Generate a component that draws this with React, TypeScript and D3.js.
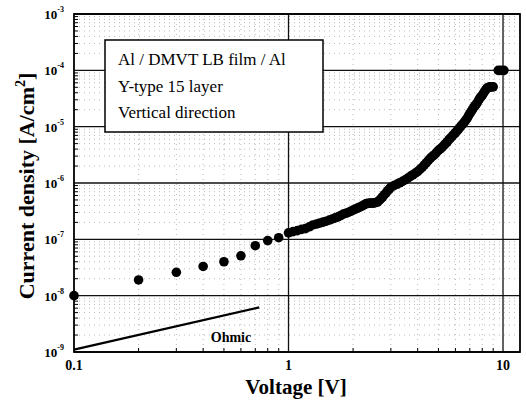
import React from "react";
import * as d3 from "d3";

const voltage = [
  0.1, 0.2, 0.3, 0.4, 0.5, 0.6, 0.7, 0.8, 0.9,
  1.0, 1.05, 1.1, 1.15, 1.2, 1.25, 1.3, 1.35, 1.4, 1.45, 1.5, 1.55, 1.6, 1.65, 1.7, 1.75, 1.8, 1.85, 1.9, 1.95, 2.0,
  2.05, 2.1, 2.15, 2.2, 2.25, 2.3, 2.35, 2.4, 2.45, 2.5, 2.55, 2.6, 2.65, 2.7, 2.75, 2.8, 2.85, 2.9, 2.95, 3.0,
  3.1, 3.2, 3.3, 3.4, 3.5, 3.6, 3.7, 3.8, 3.9, 4.0,
  4.1, 4.2, 4.3, 4.4, 4.5, 4.6, 4.7, 4.8, 4.9, 5.0,
  5.1, 5.2, 5.3, 5.4, 5.5, 5.6, 5.7, 5.8, 5.9, 6.0,
  6.1, 6.2, 6.3, 6.4, 6.5, 6.6, 6.7, 6.8, 6.9, 7.0,
  7.1, 7.2, 7.3, 7.4, 7.5, 7.6, 7.7, 7.8, 7.9, 8.0,
  8.1, 8.2, 8.3, 8.4, 8.5, 8.6, 8.7, 8.8, 8.9, 9.0,
  9.5, 9.8, 10.1,
];
const current = [
  1e-8, 1.9e-8, 2.6e-8, 3.3e-8, 4e-8, 5.1e-8, 7.7e-8, 9.5e-8, 1.07e-7,
  1.3e-7, 1.37e-7, 1.43e-7, 1.5e-7, 1.55e-7, 1.67e-7, 1.8e-7, 1.87e-7, 1.95e-7, 2.02e-7, 2.1e-7,
  2.2e-7, 2.3e-7, 2.4e-7, 2.5e-7, 2.65e-7, 2.8e-7, 2.9e-7, 3.0e-7, 3.15e-7, 3.3e-7,
  3.45e-7, 3.6e-7, 3.75e-7, 3.9e-7, 4.1e-7, 4.3e-7, 4.35e-7, 4.4e-7, 4.4e-7, 4.4e-7,
  4.5e-7, 4.6e-7, 4.9e-7, 5.3e-7, 5.7e-7, 6.2e-7, 6.7e-7, 7.3e-7, 7.8e-7, 8.4e-7,
  9.0e-7, 9.5e-7, 1.01e-6, 1.07e-6, 1.14e-6, 1.22e-6, 1.31e-6, 1.4e-6, 1.5e-6, 1.6e-6,
  1.75e-6, 1.9e-6, 2.1e-6, 2.3e-6, 2.55e-6, 2.8e-6, 3.0e-6, 3.2e-6, 3.5e-6, 3.8e-6,
  4.05e-6, 4.3e-6, 4.65e-6, 5.0e-6, 5.4e-6, 5.9e-6, 6.3e-6, 6.8e-6, 7.3e-6, 7.8e-6,
  8.4e-6, 9.0e-6, 9.7e-6, 1.05e-5, 1.12e-5, 1.2e-5, 1.3e-5, 1.4e-5, 1.55e-5, 1.7e-5,
  1.85e-5, 2.0e-5, 2.2e-5, 2.35e-5, 2.5e-5, 2.7e-5, 2.95e-5, 3.2e-5, 3.4e-5, 3.6e-5,
  3.9e-5, 4.2e-5, 4.5e-5, 4.8e-5, 4.95e-5, 5.0e-5, 5.1e-5, 5.1e-5, 5.1e-5, 5.1e-5,
  1e-4, 1e-4, 1e-4,
];

const ohmicV = [0.1, 0.73];
const ohmicJ = [1.1e-9, 6.2e-9];

const xTickLabels = ["0.1", "1", "10"];
const xTickValues = [0.1, 1, 10];
const yExponents = [-9, -8, -7, -6, -5, -4, -3];

const legendLines = ["Al / DMVT LB film / Al", "Y-type 15 layer", "Vertical direction"];

export default function App() {
  const width = 526;
  const height = 400;
  const marginLeft = 74;
  const marginRight = 6;
  const marginTop = 14;
  const marginBottom = 48;

  const x = d3.scaleLog().domain([0.1, 12]).range([marginLeft, width - marginRight]);
  const y = d3.scaleLog().domain([1e-9, 1e-3]).range([height - marginBottom, marginTop]);

  const [x0, x1] = x.range();
  const [y0, y1] = y.range();

  // minor grid (2..9 of each decade)
  const xMinor: number[] = [];
  [0.1, 1, 10].forEach(d => {
    for (let k = 2; k <= 9; k++) if (d * k < 12) xMinor.push(d * k);
  });
  const yMinor: number[] = [];
  yExponents.slice(0, -1).forEach(e => {
    for (let k = 2; k <= 9; k++) yMinor.push(k * Math.pow(10, e));
  });

  const points = voltage.map((v, i) => ({ v, j: current[i] }));
  const ohmic = d3.line<number>().x((v) => x(v)).y((_, i) => y(ohmicJ[i]));

  const font = "'Liberation Serif', 'Times New Roman', serif";

  return (
    <svg width={width} height={height} style={{ position: "absolute", left: 0, top: 0, background: "white" }} fontFamily={font}>
      {/* minor dotted grid */}
      <g stroke="#999" strokeWidth={0.7} strokeDasharray="1 4">
        {xMinor.map(v => <line key={"xm" + v} x1={x(v)} x2={x(v)} y1={y1} y2={y0} />)}
        {yMinor.map(v => <line key={"ym" + v} x1={x0} x2={x1} y1={y(v)} y2={y(v)} />)}
      </g>
      {/* minor tick marks on left and bottom */}
      <g stroke="#000" strokeWidth={1}>
        {yMinor.map(v => <line key={"yt" + v} x1={x0} x2={x0 + 4} y1={y(v)} y2={y(v)} />)}
        {xMinor.map(v => <line key={"xt" + v} x1={x(v)} x2={x(v)} y1={y0} y2={y0 - 4} />)}
      </g>
      {/* major grid */}
      <g stroke="#111" strokeWidth={1.3}>
        {yExponents.map(e => <line key={"yg" + e} x1={x0} x2={x1} y1={y(Math.pow(10, e))} y2={y(Math.pow(10, e))} />)}
        {[1, 10].map(v => <line key={"xg" + v} x1={x(v)} x2={x(v)} y1={y1} y2={y0} />)}
      </g>
      <rect x={x0} y={y1} width={x1 - x0} height={y0 - y1} fill="none" stroke="#000" strokeWidth={1.8} />

      {/* legend box */}
      <rect x={105} y={40} width={218} height={92} fill="white" stroke="#000" strokeWidth={1.5} />
      {legendLines.map((t, i) => (
        <text key={t} x={118} y={65 + i * 26.5} fontSize={17} fill="#000">{t}</text>
      ))}

      {/* ohmic reference */}
      <path d={ohmic(ohmicV) || ""} fill="none" stroke="#000" strokeWidth={2.2} />
      <text x={231} y={342} fontSize={14} fontWeight="bold" textAnchor="middle" fill="#000">Ohmic</text>

      {/* data */}
      <g fill="#000">
        {points.map((p, i) => <circle key={i} cx={x(p.v)} cy={y(p.j)} r={4.8} />)}
      </g>

      {/* tick labels */}
      <g fontSize={14} fontWeight="bold" fill="#000" textAnchor="middle">
        {xTickValues.map((v, i) => <text key={v} x={x(v)} y={y0 + 18}>{xTickLabels[i]}</text>)}
      </g>
      <g fontWeight="bold" fill="#000">
        {yExponents.map(e => (
          <text key={e} x={x0 - 10} y={y(Math.pow(10, e)) + 5} fontSize={13} textAnchor="end">
            10<tspan fontSize={8} dy={-7}>{e}</tspan>
          </text>
        ))}
      </g>

      {/* axis titles */}
      <text x={296} y={394} fontSize={21} fontWeight="bold" textAnchor="middle" fill="#000">Voltage [V]</text>
      <text transform="translate(34,186) rotate(-90)" fontSize={22} fontWeight="bold" textAnchor="middle" fill="#000">
        Current density [A/cm<tspan fontSize={14} dy={-9}>2</tspan><tspan dy={9}>]</tspan>
      </text>
    </svg>
  );
}
